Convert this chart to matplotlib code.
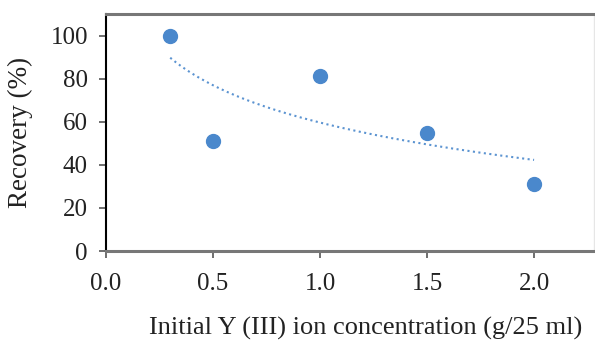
import numpy as np
import matplotlib.pyplot as plt

plt.rcParams['font.family'] = ['Liberation Serif', 'DejaVu Serif']

# Y(III) initial concentration (g/25 ml) and recovery (%)
conc = [0.3, 0.5, 1.0, 1.5, 2.0]
recovery = [100, 51, 81, 55, 31]
xticks = [0.0, 0.5, 1.0, 1.5, 2.0]
yticks = [0, 20, 40, 60, 80, 100]

blue = '#4a88cc'

fig = plt.figure(figsize=(5.95, 3.44), dpi=100)
ax = fig.add_axes([106 / 595, 1 - 251 / 344, 488 / 595, 237 / 344])

ax.plot(conc, recovery, 'o', color=blue, markersize=10, zorder=3)

# logarithmic trendline
a, b = np.polyfit(np.log(conc), recovery, 1)
xs = np.linspace(min(conc), max(conc), 200)
ax.plot(xs, a * np.log(xs) + b, ':', color=blue, lw=1.5, alpha=0.9)

ax.set_xlim(0, 2.28)
ax.set_ylim(0, 110)
ax.set_xticks(xticks)
ax.set_xticklabels([f"{t:.1f}" for t in xticks])
ax.set_yticks(yticks)

ax.spines['left'].set_color('black')
ax.spines['left'].set_linewidth(1.5)
for s in ('top', 'bottom'):
    ax.spines[s].set_color('#777777')
    ax.spines[s].set_linewidth(2.2)
ax.spines['right'].set_color('#e6e6e6')
ax.spines['right'].set_linewidth(1)

ax.tick_params(axis='both', direction='out', length=5, width=1.2, color='#555555',
               labelsize=18, labelcolor='#222222')
ax.tick_params(axis='x', pad=11)
ax.tick_params(axis='y', pad=8)

ax.set_xlabel("Initial Y (III) ion concentration (g/25 ml)", fontsize=19, color='#222222')
ax.xaxis.set_label_coords(0.531, -0.28)
ax.set_ylabel("Recovery (%)", fontsize=19.5, color='#222222')
ax.yaxis.set_label_coords(-0.15, 0.5)

fig.savefig("out.png", dpi=100)
